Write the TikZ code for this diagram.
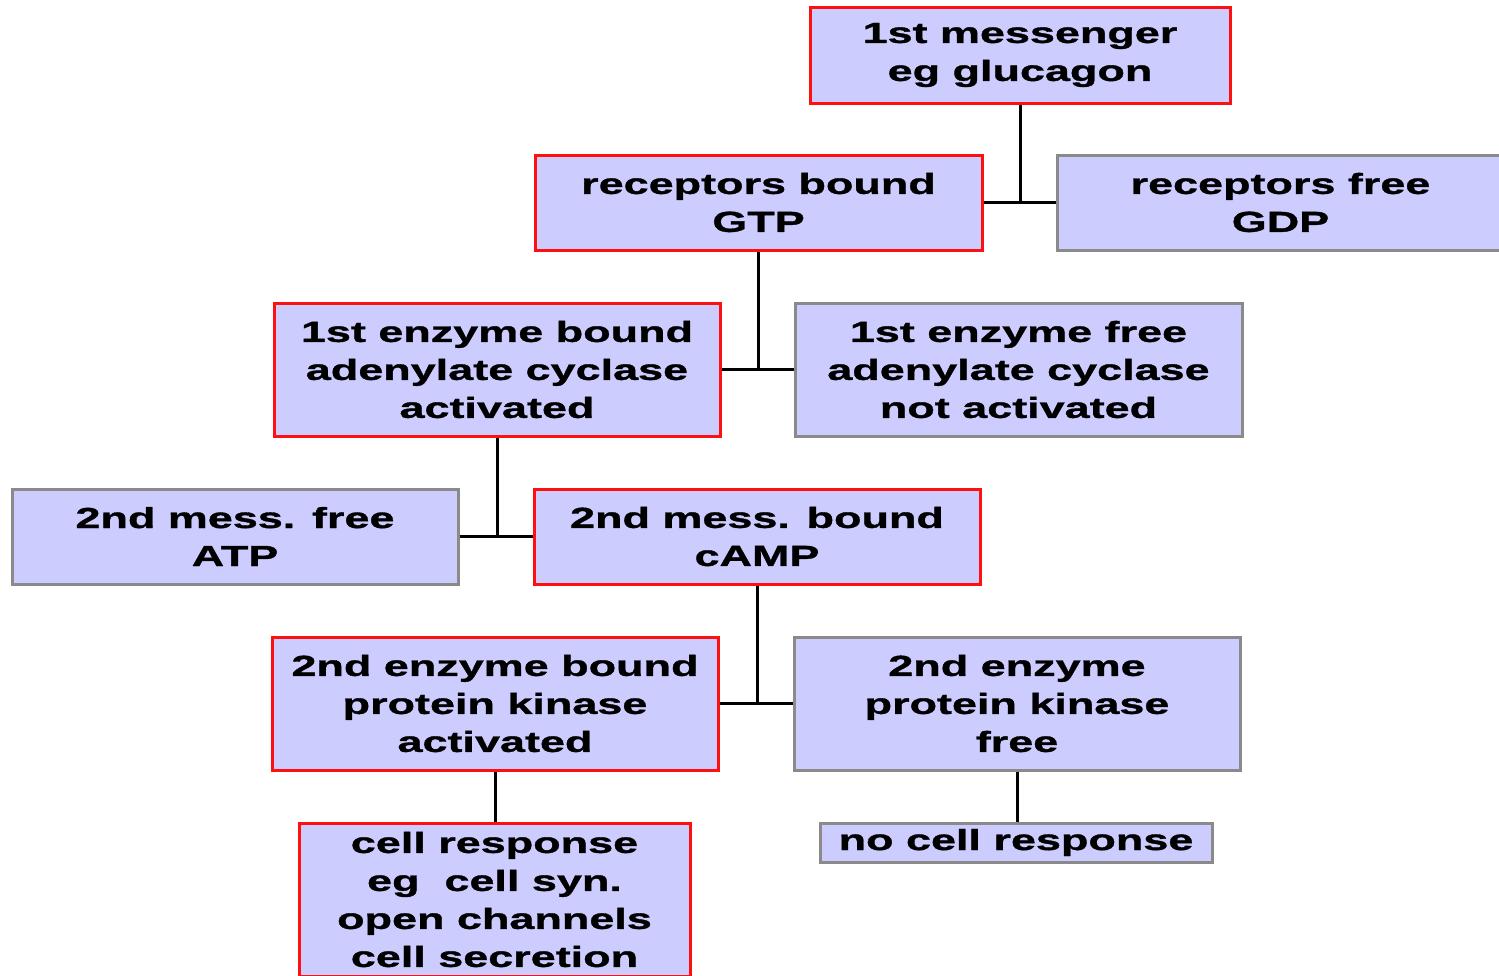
\documentclass[tikz,border=0pt]{standalone}
\usepackage{fontspec}
\newfontfamily\boxfont[FakeStretch=1.55,FakeBold=1.2]{Liberation Sans}
\definecolor{boxfill}{HTML}{CCCCFF}
\definecolor{redline}{HTML}{FF1010}
\definecolor{grayline}{HTML}{8A8A8A}
\begin{document}
\begin{tikzpicture}[x=1pt,y=-1pt,
  box/.style={fill=boxfill,line width=3pt,inner sep=0pt,align=center,
    font=\boxfont\bfseries\fontsize{29}{38}\selectfont},
  onbox/.style={box,draw=redline},
  offbox/.style={box,draw=grayline},
  link/.style={line width=3pt,draw=black}]
\useasboundingbox (0,0) rectangle (1499,975);
\clip (0,0) rectangle (1499,975);
\node[onbox,minimum width=420pt,minimum height=96pt] (m1) at (1020,55) {1st messenger\\eg glucagon};
\node[onbox,minimum width=447pt,minimum height=95pt] (rb) at (758.5,202.5) {receptors bound\\GTP};
\node[offbox,minimum width=447pt,minimum height=95pt] (rf) at (1280.5,202.5) {receptors free\\GDP};
\node[onbox,minimum width=446pt,minimum height=133pt] (e1b) at (497,369.5) {1st enzyme bound\\adenylate cyclase\\activated};
\node[offbox,minimum width=447pt,minimum height=133pt] (e1f) at (1018.5,369.5) {1st enzyme free\\adenylate cyclase\\not activated};
\node[offbox,minimum width=446pt,minimum height=95pt] (m2f) at (235,536.5) {2nd mess. free\\ATP};
\node[onbox,minimum width=446pt,minimum height=95pt] (m2b) at (757,536.5) {2nd mess. bound\\cAMP};
\node[onbox,minimum width=446pt,minimum height=133pt] (e2b) at (495,703.5) {2nd enzyme bound\\protein kinase\\activated};
\node[offbox,minimum width=446pt,minimum height=133pt] (e2f) at (1017,703.5) {2nd enzyme\\protein kinase\\free};
\node[onbox,minimum width=391pt,minimum height=153pt] (cr) at (494.5,899.5) {cell response\\eg\ \ cell syn.\\open channels\\cell secretion};
\node[offbox,minimum width=392pt,minimum height=39pt] (ncr) at (1016,842.5) {no cell response};
\draw[link] (rb.east) -- (rf.west);
\draw[link] (m1.south) -- (m1.south |- rb.east);
\draw[link] (e1b.east) -- (e1f.west);
\draw[link] (rb.south) -- (rb.south |- e1b.east);
\draw[link] (m2f.east) -- (m2b.west);
\draw[link] (e1b.south) -- (e1b.south |- m2f.east);
\draw[link] (e2b.east) -- (e2f.west);
\draw[link] (m2b.south) -- (m2b.south |- e2b.east);
\draw[link] (e2b.south) -- (e2b.south |- cr.north);
\draw[link] (e2f.south) -- (e2f.south |- ncr.north);
\end{tikzpicture}
\end{document}
